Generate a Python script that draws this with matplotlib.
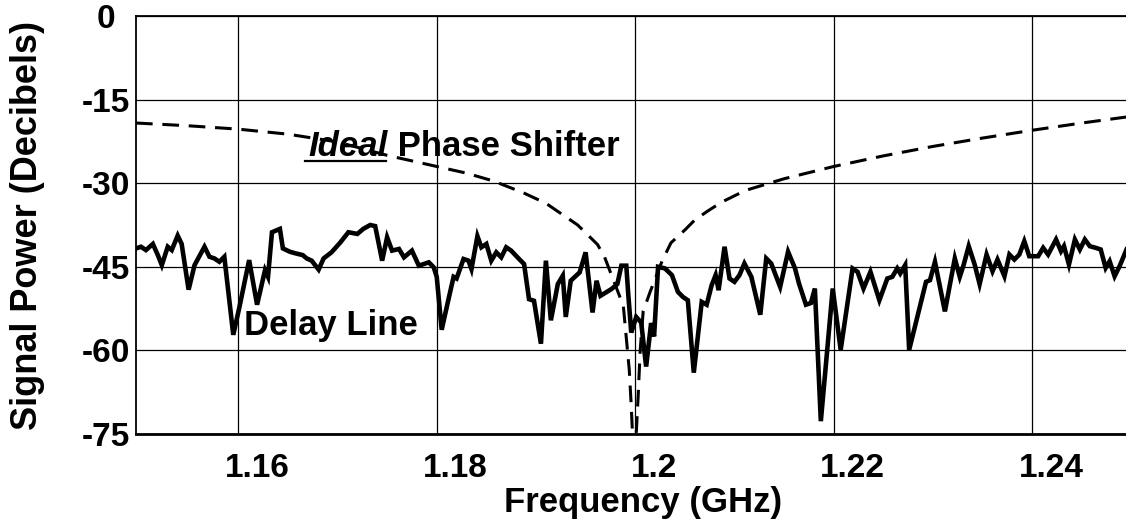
import matplotlib
matplotlib.use('Agg')
import matplotlib.pyplot as plt
from matplotlib.transforms import ScaledTranslation
from matplotlib.lines import Line2D

plt.rcParams['font.family'] = ['Liberation Sans', 'DejaVu Sans']
plt.rcParams['font.weight'] = 'bold'
plt.rcParams['lines.scale_dashes'] = False

# delay line measurement (GHz, dB)
delay_freq = [
    1.1497, 1.1502, 1.1507, 1.1514, 1.1519, 1.1523, 1.1529, 1.1533, 1.1539, 1.1543,
    1.1550, 1.1556, 1.1566, 1.1571, 1.1576, 1.1581, 1.1586, 1.1595, 1.1601, 1.1611,
    1.1619, 1.1627, 1.1630, 1.1634, 1.1642, 1.1645, 1.1652, 1.1658, 1.1665, 1.1669,
    1.1674, 1.1681, 1.1686, 1.1694, 1.1703, 1.1711, 1.1720, 1.1726, 1.1733, 1.1738,
    1.1745, 1.1750, 1.1755, 1.1762, 1.1767, 1.1775, 1.1782, 1.1792, 1.1797, 1.1800,
    1.1805, 1.1812, 1.1817, 1.1820, 1.1827, 1.1832, 1.1835, 1.1841, 1.1845, 1.1850,
    1.1855, 1.1860, 1.1865, 1.1870, 1.1875, 1.1883, 1.1888, 1.1893, 1.1898, 1.1905,
    1.1910, 1.1915, 1.1922, 1.1927, 1.1930, 1.1935, 1.1944, 1.1950, 1.1957, 1.1961,
    1.1965, 1.1976, 1.1982, 1.1986, 1.1991, 1.1993, 1.1996, 1.2001, 1.2006, 1.2011,
    1.2016, 1.2019, 1.2023, 1.2030, 1.2037, 1.2043, 1.2048, 1.2053, 1.2059, 1.2067,
    1.2072, 1.2077, 1.2081, 1.2084, 1.2090, 1.2095, 1.2100, 1.2105, 1.2110, 1.2117,
    1.2126, 1.2132, 1.2137, 1.2146, 1.2154, 1.2161, 1.2165, 1.2172, 1.2177, 1.2181,
    1.2187, 1.2199, 1.2207, 1.2219, 1.2224, 1.2230, 1.2237, 1.2246, 1.2254, 1.2259,
    1.2264, 1.2267, 1.2272, 1.2276, 1.2286, 1.2293, 1.2297, 1.2302, 1.2312, 1.2322,
    1.2327, 1.2331, 1.2336, 1.2342, 1.2347, 1.2354, 1.2360, 1.2365, 1.2372, 1.2377,
    1.2382, 1.2387, 1.2392, 1.2397, 1.2406, 1.2411, 1.2416, 1.2424, 1.2429, 1.2432,
    1.2437, 1.2443, 1.2448, 1.2453, 1.2458, 1.2464, 1.2469, 1.2474, 1.2478, 1.2483,
    1.2488, 1.2495,
]
delay_db = [
    -41.7, -41.4, -42.0, -40.9, -42.9, -44.7, -41.4, -42.0, -39.4, -40.9,
    -49.1, -44.7, -41.4, -43.2, -43.5, -44.1, -43.2, -57.2, -52.4, -43.8,
    -51.8, -45.6, -46.8, -38.8, -38.2, -41.7, -42.3, -42.6, -42.9, -43.5,
    -43.9, -45.5, -43.5, -42.4, -40.6, -38.8, -39.1, -38.2, -37.5, -37.7,
    -43.9, -39.7, -42.1, -41.8, -43.3, -42.1, -44.8, -44.2, -45.1, -46.8,
    -56.3, -50.7, -46.8, -47.1, -43.6, -43.9, -45.4, -39.5, -41.5, -40.9,
    -43.9, -42.4, -43.3, -41.5, -42.1, -43.6, -44.5, -50.8, -51.1, -58.8,
    -43.9, -54.6, -48.1, -46.6, -54.0, -47.5, -46.0, -42.4, -53.2, -47.5,
    -50.2, -49.0, -48.1, -44.8, -44.8, -50.0, -56.8, -54.0, -55.0, -62.9,
    -55.1, -57.5, -45.0, -45.3, -46.5, -49.5, -50.4, -51.0, -64.0, -51.3,
    -51.8, -48.3, -46.5, -49.2, -41.4, -47.1, -47.7, -46.5, -44.4, -46.8,
    -53.6, -43.5, -44.4, -48.6, -42.3, -45.3, -48.0, -51.8, -51.5, -48.9,
    -72.7, -48.9, -59.9, -45.3, -45.9, -48.9, -45.9, -51.0, -47.1, -46.8,
    -45.3, -46.2, -44.7, -59.9, -52.7, -47.7, -47.4, -44.1, -53.0, -43.5,
    -46.8, -44.6, -41.3, -44.6, -48.1, -42.8, -45.8, -43.7, -46.7, -42.8,
    -43.7, -42.8, -40.4, -43.1, -43.1, -41.6, -42.8, -40.1, -42.2, -41.3,
    -44.6, -40.1, -41.9, -40.1, -41.3, -41.6, -41.9, -45.2, -44.0, -46.7,
    -44.9, -41.9,
]

# ideal phase shifter curve (GHz, dB)
ideal_freq = [
    1.1497, 1.155, 1.160, 1.165, 1.170, 1.175, 1.180, 1.183, 1.1857, 1.1887,
    1.191, 1.1942, 1.1962, 1.1969, 1.1988, 1.1994, 1.1996, 1.19985,
    1.2001, 1.2003, 1.2005, 1.2008, 1.2015, 1.2027, 1.2036, 1.2050, 1.2060,
    1.2073, 1.2087, 1.2111, 1.215, 1.220, 1.225, 1.230, 1.235, 1.240, 1.245, 1.2500,
]
ideal_db = [
    -19.2, -19.7, -20.3, -21.2, -22.6, -25.0, -27.0, -28.2, -29.6, -31.7,
    -33.6, -37.5, -41.0, -43.2, -52.0, -63.5, -70.0, -80.0,
    -75.0, -68.0, -60.0, -53.0, -49.5, -44.0, -40.7, -38.4, -36.6,
    -35.0, -33.4, -31.3, -29.2, -27.0, -25.1, -23.4, -21.9, -20.5, -19.2, -18.0,
]

x_ticks = [1.16, 1.18, 1.20, 1.22, 1.24]
x_labels = ['1.16', '1.18', '1.2', '1.22', '1.24']
y_ticks = [0, -15, -30, -45, -60, -75]
y_labels = ['0', '-15', '-30', '-45', '-60', '-75']

fig = plt.figure(figsize=(11.26, 5.25), dpi=100)
ax = fig.add_axes([136 / 1126, 91 / 525, 994 / 1126, 418 / 525])

ax.plot(ideal_freq, ideal_db, color='black', lw=2.2, dashes=(12, 7), zorder=2)
ax.plot(delay_freq, delay_db, color='black', lw=3.3, solid_joinstyle='miter', zorder=3)

ax.set_xlim(1.1497, 1.1497 + 994 / 9925)
ax.set_ylim(-75, 0)
ax.set_xticks(x_ticks)
ax.set_xticklabels(x_labels, fontsize=24, fontweight='bold')
ax.set_yticks(y_ticks)
ax.set_yticklabels(y_labels, fontsize=24, fontweight='bold', ha='center')
ax.tick_params(axis='both', length=0)
ax.tick_params(axis='y', pad=22)
ax.tick_params(axis='x', pad=14)
ax.grid(True, color='black', lw=0.9)
for s in ax.spines.values():
    s.set_linewidth(1.3)
ax.spines['bottom'].set_linewidth(2)

# labels sit a bit right of their gridlines in the original
shift = ScaledTranslation(0.19, 0, fig.dpi_scale_trans)
for lab in ax.get_xticklabels():
    lab.set_transform(lab.get_transform() + shift)

ax.set_xlabel('Frequency (GHz)', fontsize=25, fontweight='bold')
ax.xaxis.set_label_coords((643 - 136) / 994, -0.125)
ax.set_ylabel('Signal Power (Decibels)', fontsize=26, fontweight='bold')
ax.yaxis.set_label_coords(-0.092, 0.5)

ax.text(1.1606, -57.3, 'Delay Line', fontsize=25, fontweight='bold', va='baseline')
t1 = ax.text(1.1671, -25.1, 'Ideal', fontsize=25, fontweight='bold', style='italic', va='baseline')
ax.annotate(' Phase Shifter', xy=(1, 0), xycoords=t1, fontsize=25, fontweight='bold', va='bottom')

fig.canvas.draw()
bb = t1.get_window_extent()
fig.add_artist(Line2D([bb.x0 - 4, bb.x1 - 2], [bb.y0 + 2, bb.y0 + 2], color='black', lw=1.6,
                      transform=None))

fig.savefig('out.png', dpi=100)
